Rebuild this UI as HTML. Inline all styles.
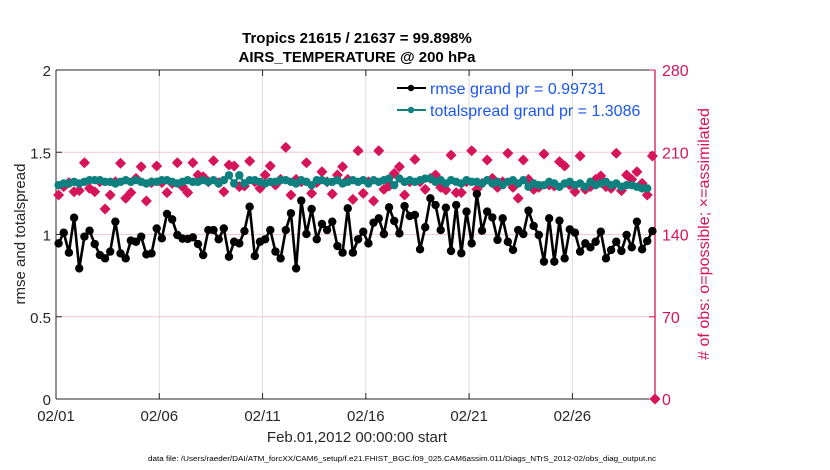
<!DOCTYPE html>
<html><head><meta charset="utf-8">
<style>
body{margin:0;background:#fff;width:830px;height:470px;overflow:hidden;font-family:"Liberation Sans",Arial,sans-serif}
svg{display:block}
</style></head>
<body>
<svg id="chart" width="830" height="470" xmlns="http://www.w3.org/2000/svg" font-family="Liberation Sans, Arial, sans-serif"></svg>
<script>
const xTickLabels=["02/01","02/06","02/11","02/16","02/21","02/26"];
const xTickDays=[0,5,10,15,20,25];
const leftTicks=[0,0.5,1,1.5,2];
const leftTickLabels=["0","0.5","1","1.5","2"];
const rightTicks=[0,70,140,210,280];
const rmse=[0.946,1.011,0.890,1.102,0.794,0.987,1.023,0.942,0.875,0.855,0.896,1.078,0.885,0.855,0.963,0.956,0.987,0.879,0.885,1.037,0.977,1.125,1.092,0.997,0.975,0.973,0.983,0.942,0.875,1.027,1.027,0.971,1.037,0.865,0.956,0.946,1.021,1.169,0.869,0.956,0.971,1.027,0.896,0.855,1.027,1.129,0.794,1.206,1.003,1.155,0.971,1.064,1.027,1.078,0.930,0.890,1.159,0.890,0.971,
1.017,0.946,1.072,1.098,1.003,1.165,1.082,1.007,1.173,1.112,1.119,0.910,1.044,1.220,1.179,1.027,1.163,0.900,1.179,0.886,1.139,0.946,1.246,1.023,1.139,1.104,0.967,1.098,0.956,0.906,1.027,1.003,1.145,1.052,0.997,0.835,1.098,0.835,1.084,0.855,1.031,1.011,0.896,0.946,0.922,0.956,1.017,0.855,0.906,0.956,0.900,0.997,0.922,1.078,0.910,0.960,1.021];
const spread=[1.30,1.31,1.31,1.32,1.31,1.32,1.33,1.33,1.33,1.32,1.32,1.31,1.32,1.33,1.32,1.33,1.32,1.31,1.32,1.32,1.33,1.33,1.32,1.31,1.32,1.33,1.32,1.32,1.33,1.32,1.33,1.31,1.33,1.36,1.31,1.36,1.31,1.33,1.33,1.32,1.31,1.32,1.32,1.33,1.33,1.32,1.31,1.33,1.32,1.30,1.33,1.33,1.32,1.32,1.33,1.31,1.32,1.33,1.32,
1.33,1.31,1.33,1.32,1.33,1.34,1.30,1.34,1.32,1.33,1.32,1.33,1.34,1.34,1.32,1.33,1.31,1.33,1.32,1.31,1.33,1.32,1.32,1.31,1.33,1.31,1.32,1.30,1.32,1.33,1.31,1.33,1.29,1.31,1.30,1.30,1.32,1.31,1.29,1.31,1.32,1.30,1.31,1.29,1.32,1.30,1.31,1.32,1.30,1.31,1.29,1.30,1.30,1.29,1.28,1.28];
const obs=[173.6,180.7,184.1,176.4,177.3,201.1,179.3,176.4,184.9,161.7,173.6,184.9,200.6,170.8,175.6,187.8,197.7,168.5,184.1,198.3,184.1,175.6,183.5,201.1,180.7,175.6,201.1,190.6,189.2,184.9,202.8,184.1,176.4,199.1,198.3,180.7,181.3,202.5,184.9,179.3,190.6,198.3,182.1,186.9,214.2,173.6,186.9,184.9,201.1,175.0,184.1,193.4,184.9,174.5,190.6,197.7,186.9,169.9,211.3,
175.0,184.9,168.5,211.3,178.4,181.3,192.0,197.7,173.6,184.9,203.9,184.9,178.4,187.8,190.6,180.1,177.9,207.6,175.6,175.6,184.9,211.3,178.4,183.5,203.4,187.8,180.1,184.9,209.1,180.1,170.8,203.4,186.9,178.4,180.1,208.5,182.1,181.3,202.0,198.3,182.1,176.4,206.8,178.4,180.7,186.9,189.8,180.7,179.3,209.1,177.3,190.6,186.9,193.4,183.5,173.6,206.8];

const X0=56,X1=655,Y0=399,Y1=70,DAYS=29;
const xs=d=>X0+d*(X1-X0)/DAYS;
const yL=v=>Y0-v*(Y0-Y1)/2;
const yR=v=>Y0-v*(Y0-Y1)/280;
const svg=document.getElementById('chart');
const NS='http://www.w3.org/2000/svg';
function mk(tag,attrs,parent){const e=document.createElementNS(NS,tag);for(const k in attrs)e.setAttribute(k,attrs[k]);(parent||svg).appendChild(e);return e;}
function txt(s,attrs,parent){const e=mk('text',attrs,parent);e.textContent=s;return e;}
const M='#d6145a';

xTickDays.forEach((d,i)=>{if(i>0){const l=mk('line',{x1:xs(d),x2:xs(d),y1:Y1,y2:Y0,stroke:'#dcdcdc','stroke-width':1});

}});
rightTicks.forEach(t=>{if(t>0&&t<280){const l=mk('line',{x1:X0,x2:X1,y1:yR(t),y2:yR(t),stroke:'#f5c6d6','stroke-width':1});

}});

const ax=mk('g',{});


mk('line',{x1:X0,x2:X1,y1:Y0,y2:Y0,stroke:'#262626'},ax);
mk('line',{x1:X0,x2:X1,y1:Y1,y2:Y1,stroke:'#262626'},ax);
mk('line',{x1:X0,x2:X0,y1:Y1,y2:Y0,stroke:'#262626'},ax);
mk('line',{x1:X1,x2:X1,y1:Y1,y2:Y0,stroke:M,'stroke-width':1.3},ax);

xTickDays.forEach((d,i)=>{
 mk('line',{x1:xs(d),x2:xs(d),y1:Y0,y2:Y0-6,stroke:'#262626'},ax);
 mk('line',{x1:xs(d),x2:xs(d),y1:Y1,y2:Y1+6,stroke:'#262626'},ax);
 const t=txt(xTickLabels[i],{x:xs(d),y:421,'font-size':15,'text-anchor':'middle',fill:'#262626'},ax);
 
 
});
leftTicks.forEach((v,i)=>{
 mk('line',{x1:X0,x2:X0+6,y1:yL(v),y2:yL(v),stroke:'#262626'},ax);
 const t=txt(leftTickLabels[i],{x:X0-5,y:yL(v)+6,'font-size':15,'text-anchor':'end',fill:'#262626'},ax);
 
 
});
rightTicks.forEach(v=>{
 mk('line',{x1:X1,x2:X1-6,y1:yR(v),y2:yR(v),stroke:M},ax);
 const t=txt(String(v),{x:X1+7,y:yR(v)+6,'font-size':16,'text-anchor':'start',fill:M},ax);
 
 
});

const og=mk('g',{});


function obsMarker(x,y){
 mk('circle',{cx:x,cy:y,r:4,fill:M},og);
 mk('path',{d:`M${x-5.5},${y}L${x},${y-5.5}L${x+5.5},${y}L${x},${y+5.5}Z`,fill:M},og);
}
obs.forEach((v,i)=>obsMarker(xs(i*0.25+0.125),yR(v)));
obsMarker(xs(DAYS),yR(0));

const sp=spread.map((v,i)=>`${xs(i*0.25+0.125)},${yL(v)}`).join(' ');
const tg=mk('g',{});


mk('polyline',{points:sp,fill:'none',stroke:'#0e8080','stroke-width':2.4},tg);
spread.forEach((v,i)=>mk('circle',{cx:xs(i*0.25+0.125),cy:yL(v),r:4.2,fill:'#0e8080'},tg));

const rp=rmse.map((v,i)=>`${xs(i*0.25+0.125)},${yL(v)}`).join(' ');
const bg=mk('g',{});


mk('polyline',{points:rp,fill:'none',stroke:'#000','stroke-width':2.6},bg);
rmse.forEach((v,i)=>mk('circle',{cx:xs(i*0.25+0.125),cy:yL(v),r:4.2,fill:'#000'},bg));

const lg=mk('g',{});


mk('line',{x1:397,x2:426,y1:88,y2:88,stroke:'#000','stroke-width':2},lg);
mk('circle',{cx:411,cy:88,r:3.2,fill:'#000'},lg);
txt('rmse grand pr = 0.99731',{x:430,y:94,'font-size':16,fill:'#1a56f0'},lg);
mk('line',{x1:397,x2:426,y1:110,y2:110,stroke:'#0e8080','stroke-width':2},lg);
mk('circle',{cx:411,cy:110,r:3.2,fill:'#0e8080'},lg);
txt('totalspread grand pr = 1.3086',{x:430,y:116,'font-size':16,fill:'#1a56f0'},lg);

let t;
t=txt('Tropics 21615 / 21637 = 99.898%',{x:357,y:43,'font-size':15,'font-weight':'bold','text-anchor':'middle',fill:'#000'});


t=txt('AIRS_TEMPERATURE @ 200 hPa',{x:357,y:62,'font-size':15,'font-weight':'bold','text-anchor':'middle',fill:'#000'});


t=txt('rmse and totalspread',{x:0,y:0,'font-size':15,'text-anchor':'middle',fill:'#262626',transform:'translate(25,234) rotate(-90)'});


t=txt('# of obs: o=possible; \u00d7=assimilated',{x:0,y:0,'font-size':16,'text-anchor':'middle',fill:M,transform:'translate(709,234) rotate(-90)',textLength:252,lengthAdjust:'spacingAndGlyphs'});


t=txt('Feb.01,2012 00:00:00 start',{x:357,y:442,'font-size':15,'text-anchor':'middle',fill:'#262626'});


t=txt('data file: /Users/raeder/DAI/ATM_forcXX/CAM6_setup/f.e21.FHIST_BGC.f09_025.CAM6assim.011/Diags_NTrS_2012-02/obs_diag_output.nc',{x:402,y:461,'font-size':7.6,'text-anchor':'middle',fill:'#000',textLength:508,lengthAdjust:'spacingAndGlyphs'});


</script>
</body></html>
